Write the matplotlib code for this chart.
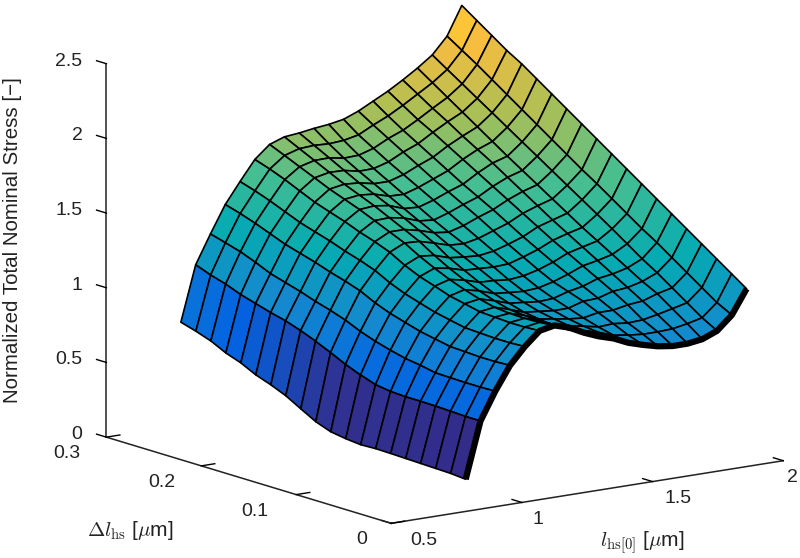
import numpy as np
import matplotlib
matplotlib.use("Agg")
import matplotlib.pyplot as plt
from matplotlib.colors import LinearSegmentedColormap, Normalize
from matplotlib.transforms import ScaledTranslation
from mpl_toolkits.mplot3d import proj3d

plt.rcParams['font.family'] = ['Liberation Sans', 'DejaVu Sans']
plt.rcParams['mathtext.fontset'] = 'cm'

# grid of the surface
l_hs0 = np.linspace(0.785, 1.86, 20)
delta_l = np.linspace(0.0, 0.3, 20)

# normalized stress, one row per l_hs0, delta_l increasing along the row
stress = [
    [0.215, 0.224, 0.227, 0.230, 0.233, 0.236, 0.238, 0.234, 0.244, 0.260, 0.297, 0.353, 0.410, 0.453, 0.489, 0.539, 0.575, 0.625, 0.660, 0.690],
    [0.589, 0.590, 0.594, 0.598, 0.600, 0.600, 0.605, 0.620, 0.655, 0.696, 0.745, 0.790, 0.830, 0.865, 0.890, 0.920, 0.950, 0.990, 1.020, 1.058],
    [0.773, 0.770, 0.770, 0.772, 0.775, 0.795, 0.810, 0.835, 0.864, 0.900, 0.945, 0.980, 1.010, 1.045, 1.075, 1.105, 1.150, 1.190, 1.220, 1.249],
    [0.930, 0.925, 0.925, 0.930, 0.935, 0.955, 0.975, 1.005, 1.035, 1.075, 1.125, 1.160, 1.190, 1.225, 1.255, 1.285, 1.325, 1.365, 1.400, 1.430],
    [1.040, 1.035, 1.035, 1.040, 1.045, 1.066, 1.088, 1.119, 1.151, 1.193, 1.246, 1.283, 1.315, 1.352, 1.383, 1.415, 1.457, 1.499, 1.536, 1.568],
    [1.130, 1.124, 1.124, 1.130, 1.136, 1.159, 1.181, 1.216, 1.250, 1.295, 1.352, 1.392, 1.426, 1.466, 1.500, 1.535, 1.580, 1.626, 1.666, 1.700],
    [1.150, 1.140, 1.137, 1.140, 1.150, 1.175, 1.207, 1.245, 1.290, 1.340, 1.398, 1.442, 1.487, 1.531, 1.569, 1.607, 1.652, 1.696, 1.741, 1.785],
    [1.120, 1.110, 1.106, 1.110, 1.120, 1.148, 1.183, 1.225, 1.274, 1.330, 1.393, 1.442, 1.491, 1.540, 1.582, 1.624, 1.673, 1.722, 1.771, 1.820],
    [1.070, 1.059, 1.055, 1.070, 1.085, 1.115, 1.150, 1.195, 1.245, 1.298, 1.366, 1.420, 1.473, 1.526, 1.572, 1.617, 1.670, 1.724, 1.777, 1.830],
    [1.030, 1.038, 1.040, 1.055, 1.075, 1.105, 1.140, 1.190, 1.240, 1.287, 1.336, 1.389, 1.438, 1.490, 1.543, 1.596, 1.649, 1.706, 1.772, 1.845],
    [1.000, 1.010, 1.021, 1.039, 1.064, 1.094, 1.133, 1.180, 1.235, 1.280, 1.330, 1.377, 1.428, 1.484, 1.539, 1.595, 1.651, 1.710, 1.779, 1.856],
    [0.955, 0.975, 1.000, 1.030, 1.065, 1.100, 1.140, 1.190, 1.240, 1.295, 1.350, 1.405, 1.460, 1.515, 1.570, 1.625, 1.680, 1.740, 1.800, 1.874],
    [0.925, 0.960, 1.006, 1.050, 1.095, 1.130, 1.165, 1.215, 1.270, 1.325, 1.385, 1.445, 1.500, 1.555, 1.610, 1.670, 1.730, 1.790, 1.850, 1.913],
    [0.900, 0.950, 0.995, 1.050, 1.100, 1.150, 1.200, 1.250, 1.305, 1.360, 1.420, 1.480, 1.535, 1.590, 1.650, 1.710, 1.770, 1.830, 1.895, 1.964],
    [0.886, 0.950, 1.000, 1.070, 1.130, 1.185, 1.240, 1.295, 1.350, 1.410, 1.470, 1.530, 1.590, 1.650, 1.710, 1.770, 1.830, 1.885, 1.950, 2.015],
    [0.886, 0.955, 1.020, 1.080, 1.140, 1.200, 1.260, 1.320, 1.380, 1.440, 1.505, 1.570, 1.635, 1.700, 1.760, 1.820, 1.885, 1.945, 2.010, 2.074],
    [0.900, 0.973, 1.043, 1.113, 1.165, 1.225, 1.285, 1.345, 1.405, 1.470, 1.535, 1.600, 1.665, 1.730, 1.798, 1.866, 1.934, 2.002, 2.070, 2.138],
    [0.940, 0.997, 1.067, 1.137, 1.207, 1.270, 1.340, 1.410, 1.477, 1.544, 1.610, 1.677, 1.744, 1.810, 1.877, 1.944, 2.010, 2.077, 2.143, 2.210],
    [1.030, 1.083, 1.153, 1.223, 1.293, 1.363, 1.426, 1.496, 1.566, 1.635, 1.700, 1.770, 1.840, 1.910, 1.980, 2.050, 2.120, 2.190, 2.255, 2.320],
    [1.190, 1.260, 1.330, 1.400, 1.470, 1.540, 1.610, 1.680, 1.750, 1.820, 1.890, 1.960, 2.030, 2.100, 2.170, 2.240, 2.300, 2.370, 2.440, 2.510],
]

x_ticks = [0.5, 1, 1.5, 2]
x_tick_labels = ['0.5', '1', '1.5', '2']
y_ticks = [0, 0.1, 0.2, 0.3]
y_tick_labels = ['0', '0.1', '0.2', '0.3']
z_ticks = [0, 0.5, 1, 1.5, 2, 2.5]
z_tick_labels = ['0', '0.5', '1', '1.5', '2', '2.5']

# parula, from a few anchor colours
parula = LinearSegmentedColormap.from_list('parula', [
    (0.208, 0.166, 0.529), (0.012, 0.388, 0.882), (0.079, 0.539, 0.810),
    (0.020, 0.670, 0.700), (0.270, 0.745, 0.570), (0.680, 0.750, 0.330),
    (0.990, 0.740, 0.240), (0.976, 0.984, 0.055)])

W, H = 800, 558
fig = plt.figure(figsize=(W / 100, H / 100), dpi=100)

# square axes centred on the projected centre of the box
S = 762
cx, cy = 434.5, 272.5
ax = fig.add_axes([(cx - S / 2) / W, (H - cy - S / 2) / H, S / W, S / H], projection='3d', proj_type='ortho')
ax.computed_zorder = False
ax.view_init(elev=12.7, azim=-126)
ax.set_box_aspect((1, 1, 0.79))
ax.patch.set_alpha(0)

L, D = np.meshgrid(l_hs0, delta_l, indexing='ij')
Z = np.array(stress)
colors = parula(Normalize(0.2, 2.55)(Z))
ax.plot_surface(L, D, Z, rstride=1, cstride=1, facecolors=colors,
                edgecolor='black', linewidth=1.2, shade=False, antialiased=True, zorder=2)
ax.plot(l_hs0, np.zeros(20), Z[:, 0], color='black', lw=4.5, zorder=3, solid_capstyle='butt')

ax.set_xlim(0.5, 2, view_margin=0)
ax.set_ylim(0, 0.3, view_margin=0)
ax.set_zlim(0, 2.5, view_margin=0)
ax.set_xticks(x_ticks)
ax.set_yticks(y_ticks)
ax.set_zticks(z_ticks)

for axis in (ax.xaxis, ax.yaxis, ax.zaxis):
    axis.set_pane_color((1, 1, 1, 0))
    axis.pane.set_edgecolor((1, 1, 1, 0))
    axis.line.set_color('#222222')
    axis.line.set_linewidth(1.1)
    axis._axinfo['tick']['inward_factor'] = 0
    axis._axinfo['tick']['outward_factor'] = 0.43
    axis._axinfo['tick']['linewidth'] = {True: 1.0, False: 1.0}
    axis._axinfo['tick']['color'] = '#222222'
    # tick labels are placed by hand below, mplot3d puts them too close
    for tick in axis.get_major_ticks():
        tick.label1.set_visible(False)
        tick.label2.set_visible(False)
    axis.offsetText.set_visible(False)
    axis.label.set_visible(False)
ax.grid(False)
# z ticks point along delta_l, like the original
ax.zaxis._get_tickdir = lambda position: 1

M = ax.get_proj()


def tick_label(x, y, z, label, dx, dy, ha):
    px, py, _ = proj3d.proj_transform(x, y, z, M)
    offset = ScaledTranslation(dx / 100, -dy / 100, fig.dpi_scale_trans)
    ax.text2D(px, py, label, transform=ax.transData + offset, ha=ha, va='center',
              fontsize=14, color='#222222', zorder=5)


for v, label, dx in zip(x_ticks, x_tick_labels, [19, 11, 12, 4]):
    tick_label(v, 0, 0, label, dx, 17, 'left')
for v, label, dx in zip(y_ticks, y_tick_labels, [-24, -28, -26, -26]):
    tick_label(0.5, v, 0, label, dx, 16.5, 'right')
for v, label in zip(z_ticks, z_tick_labels):
    tick_label(0.5, 0.3, v, label, -24, -2.5, 'right')

fig.text(13 / W, 1 - 240 / H, 'Normalized Total Nominal Stress [\u2212]', rotation=90, fontsize=14.8,
         ha='center', va='center', color='#222222')
fig.text(130 / W, 1 - 531 / H, r'$\Delta l_{\mathrm{hs}}$ [$\mu$m]', fontsize=15, ha='center', va='center', color='#222222')
fig.text(642 / W, 1 - 543 / H, r'$l_{\mathrm{hs}[0]}$ [$\mu$m]', fontsize=15, ha='center', va='center', color='#222222')

fig.savefig('out.png', dpi=100)
